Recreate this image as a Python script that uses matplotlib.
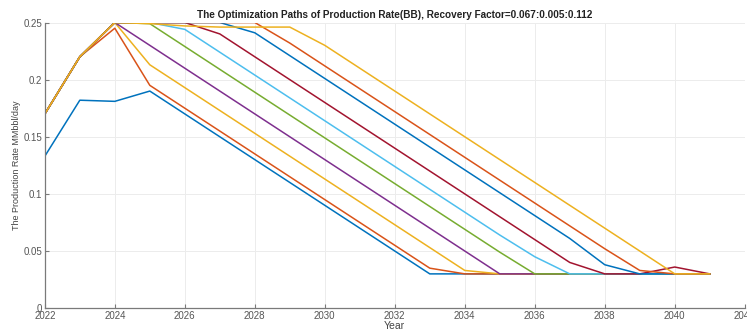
import matplotlib.pyplot as plt

plt.rcParams["font.family"] = ["Liberation Sans", "DejaVu Sans"]

years = list(range(2022, 2042))

# production-rate paths (MMbbl/day), one per recovery factor 0.067:0.005:0.112
rf_067 = [0.133, 0.182, 0.181, 0.190, 0.170, 0.150, 0.130, 0.110, 0.090, 0.070,
          0.050, 0.030, 0.030, 0.030, 0.030, 0.030, 0.030, 0.030, 0.030, 0.030]
rf_072 = [0.170, 0.220, 0.245, 0.195, 0.175, 0.155, 0.135, 0.115, 0.095, 0.075,
          0.055, 0.035, 0.030, 0.030, 0.030, 0.030, 0.030, 0.030, 0.030, 0.030]
rf_077 = [0.170, 0.220, 0.250, 0.213, 0.193, 0.173, 0.153, 0.133, 0.113, 0.093,
          0.073, 0.053, 0.033, 0.030, 0.030, 0.030, 0.030, 0.030, 0.030, 0.030]
rf_082 = [0.170, 0.220, 0.250, 0.230, 0.210, 0.190, 0.170, 0.150, 0.130, 0.110,
          0.090, 0.070, 0.050, 0.030, 0.030, 0.030, 0.030, 0.030, 0.030, 0.030]
rf_087 = [0.170, 0.220, 0.250, 0.249, 0.229, 0.209, 0.189, 0.169, 0.149, 0.129,
          0.109, 0.089, 0.069, 0.049, 0.030, 0.030, 0.030, 0.030, 0.030, 0.030]
rf_092 = [0.170, 0.220, 0.250, 0.250, 0.244, 0.224, 0.204, 0.184, 0.164, 0.144,
          0.124, 0.104, 0.084, 0.064, 0.045, 0.030, 0.030, 0.030, 0.030, 0.030]
rf_097 = [0.170, 0.220, 0.250, 0.250, 0.250, 0.240, 0.220, 0.200, 0.180, 0.160,
          0.140, 0.120, 0.100, 0.080, 0.060, 0.040, 0.030, 0.030, 0.036, 0.030]
rf_102 = [0.170, 0.220, 0.250, 0.250, 0.250, 0.250, 0.241, 0.221, 0.201, 0.181,
          0.161, 0.141, 0.121, 0.101, 0.081, 0.061, 0.038, 0.030, 0.030, 0.030]
rf_107 = [0.170, 0.220, 0.250, 0.250, 0.250, 0.250, 0.250, 0.232, 0.212, 0.192,
          0.172, 0.152, 0.132, 0.112, 0.092, 0.072, 0.052, 0.033, 0.030, 0.030]
rf_112 = [0.170, 0.220, 0.250, 0.249, 0.247, 0.246, 0.246, 0.246, 0.230, 0.210,
          0.190, 0.170, 0.150, 0.130, 0.110, 0.090, 0.070, 0.050, 0.030, 0.030]

paths = [rf_067, rf_072, rf_077, rf_082, rf_087,
         rf_092, rf_097, rf_102, rf_107, rf_112]

# MATLAB default line colour order
colors = ["#0072BD", "#D95319", "#EDB120", "#7E2F8E", "#77AC30",
          "#4DBEEE", "#A2142F"]

fig = plt.figure(figsize=(7.47, 3.31), dpi=100)
ax = fig.add_axes([0.060, 0.069, 0.937, 0.863])

for i, p in enumerate(paths):
    ax.plot(years, p, color=colors[i % len(colors)], lw=1.1)

ax.set_xlim(2022, 2042)
ax.set_ylim(0, 0.25)
ax.set_xticks(range(2022, 2043, 2))
ax.set_yticks([0, 0.05, 0.1, 0.15, 0.2, 0.25])
ax.set_yticklabels(["0", "0.05", "0.1", "0.15", "0.2", "0.25"])

ax.grid(True, color="#ececec", lw=0.7)
ax.set_axisbelow(True)
for side in ["top", "right"]:
    ax.spines[side].set_visible(False)
for side in ["left", "bottom"]:
    ax.spines[side].set_color("#7a7a7a")
    ax.spines[side].set_linewidth(0.9)
ax.tick_params(direction="in", length=3, width=0.8, colors="#7a7a7a",
               labelsize=7, labelcolor="#555555", pad=2)

ax.set_title("The Optimization Paths of Production Rate(BB), Recovery Factor=0.067:0.005:0.112",
             fontsize=7.2, fontweight="bold", color="#222222", pad=3)
ax.set_xlabel("Year", fontsize=7.5, color="#444444", labelpad=0)
ax.set_ylabel("The Production Rate MMbbl/day", fontsize=6.5, color="#444444", labelpad=2)

fig.savefig("out.png", dpi=100)
